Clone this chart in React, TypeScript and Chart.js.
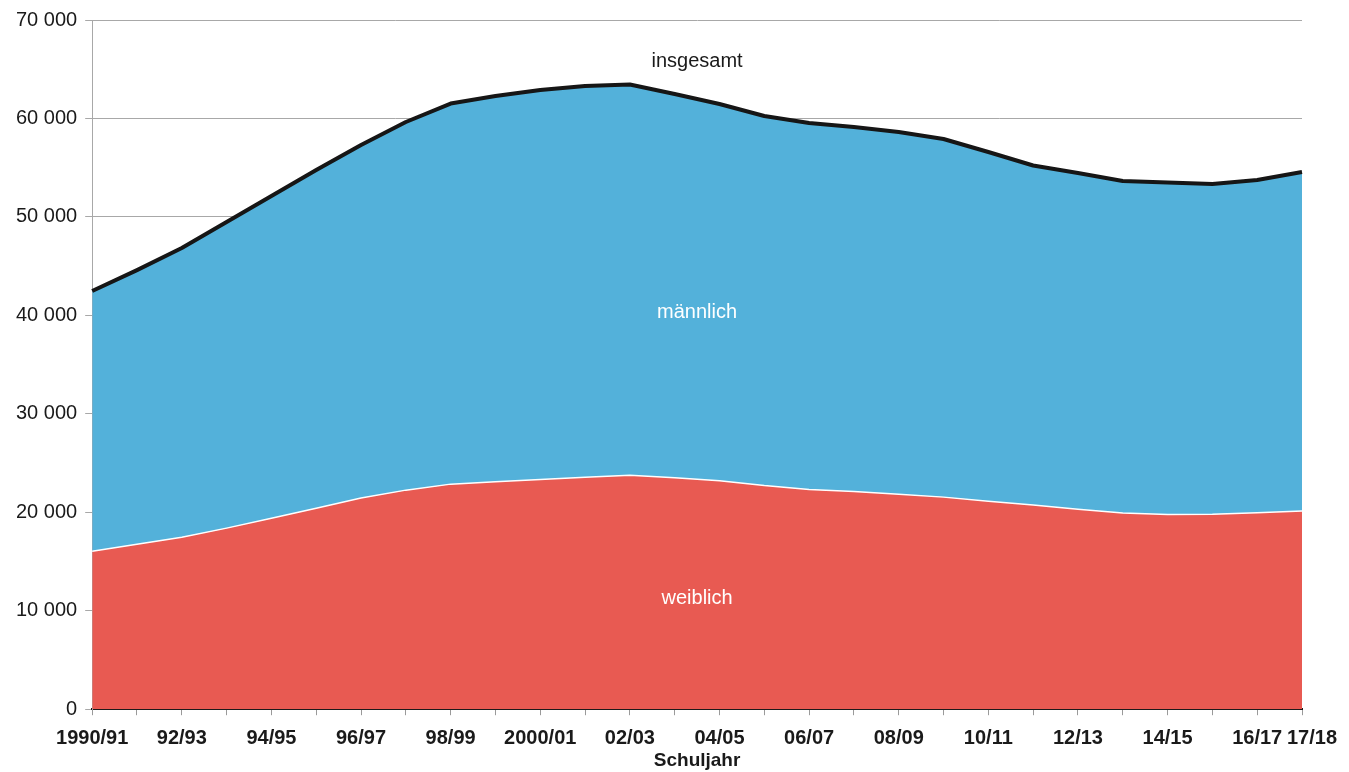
import React, { useEffect, useRef } from "react";
import { Chart, registerables } from "chart.js";

Chart.register(...registerables);

const years: string[] = [
  "1990/91", "91/92", "92/93", "93/94", "94/95", "95/96", "96/97", "97/98",
  "98/99", "99/2000", "2000/01", "01/02", "02/03", "03/04", "04/05", "05/06",
  "06/07", "07/08", "08/09", "09/10", "10/11", "11/12", "12/13", "13/14",
  "14/15", "15/16", "16/17", "17/18",
];

const shownLabels: string[] = [
  "1990/91", "", "92/93", "", "94/95", "", "96/97", "", "98/99", "", "2000/01", "",
  "02/03", "", "04/05", "", "06/07", "", "08/09", "", "10/11", "", "12/13", "",
  "14/15", "", "16/17", "\u2002\u200217/18",
];

const weiblich: number[] = [
  16050, 16760, 17470, 18390, 19400, 20420, 21440, 22250, 22860, 23110, 23320,
  23570, 23770, 23520, 23210, 22710, 22320, 22100, 21840, 21540, 21130, 20730,
  20320, 19940, 19780, 19810, 19960, 20120,
];

const insgesamt: number[] = [
  42470, 44600, 46840, 49480, 52120, 54760, 57300, 59640, 61510, 62280, 62890,
  63290, 63450, 62480, 61470, 60250, 59540, 59130, 58620, 57910, 56590, 55220,
  54460, 53650, 53490, 53340, 53740, 54560,
];

const yTicks: number[] = [0, 10000, 20000, 30000, 40000, 50000, 60000, 70000];

const areaLabels = [
  { text: "insgesamt", value: 65800, color: "#1a1a1a" },
  { text: "männlich", value: 40300, color: "#ffffff" },
  { text: "weiblich", value: 11200, color: "#ffffff" },
];

const FONT = "'Liberation Sans', Arial, Helvetica, sans-serif";

const labelPlugin = {
  id: "areaLabels",
  afterDatasetsDraw(chart: any) {
    const { ctx, chartArea, scales } = chart;
    const cx = (chartArea.left + chartArea.right) / 2;
    ctx.save();
    ctx.font = `20px ${FONT}`;
    ctx.textAlign = "center";
    ctx.textBaseline = "middle";
    for (const l of areaLabels) {
      ctx.fillStyle = l.color;
      ctx.fillText(l.text, cx, scales.y.getPixelForValue(l.value));
    }
    ctx.restore();
  },
};

function formatTick(v: number): string {
  if (v === 0) return "0";
  return `${Math.round(v / 1000)} 000`;
}

export default function App() {
  const ref = useRef<HTMLCanvasElement | null>(null);
  useEffect(() => {
    if (!ref.current) return;
    const chart = new Chart(ref.current, {
      type: "line",
      data: {
        labels: years,
        datasets: [
          {
            label: "weiblich",
            data: weiblich,
            fill: "origin",
            backgroundColor: "#E85A52",
            borderColor: "#ffffff",
            borderWidth: 1.5,
            pointRadius: 0,
            tension: 0,
          },
          {
            label: "insgesamt",
            data: insgesamt,
            fill: "-1",
            backgroundColor: "#53B1DA",
            borderColor: "#161616",
            borderWidth: 4,
            pointRadius: 0,
            tension: 0,
            borderJoinStyle: "round",
          },
        ],
      },
      options: {
        animation: false,
        responsive: false,
        maintainAspectRatio: false,
        layout: { padding: { top: 10, right: 47, left: 8, bottom: 0 } },
        plugins: {
          legend: { display: false },
          tooltip: { enabled: false },
        },
        scales: {
          x: {
            offset: false,
            grid: {
              drawOnChartArea: false,
              drawTicks: true,
              tickLength: 6,
              color: "#9a9a9a",
            },
            border: { display: true, color: "#1a1a1a", width: 2 },
            ticks: {
              autoSkip: false,
              maxRotation: 0,
              minRotation: 0,
              padding: 11,
              color: "#1a1a1a",
              font: { family: FONT, size: 20, weight: "bold" },
              callback: (_v: any, i: number) => shownLabels[i],
            },
            title: {
              display: true,
              text: "Schuljahr",
              color: "#1a1a1a",
              font: { family: FONT, size: 19, weight: "bold" },
              padding: { top: -12, bottom: 0 },
            },
          },
          y: {
            min: 0,
            max: 70000,
            afterBuildTicks: (axis: any) => {
              axis.ticks = yTicks.map((v) => ({ value: v }));
            },
            grid: {
              color: "#a8a8a8",
              lineWidth: 1,
              tickLength: 7,
            },
            border: { display: true, color: "#a8a8a8", width: 1 },
            ticks: {
              padding: 8,
              color: "#1a1a1a",
              font: { family: FONT, size: 20 },
              callback: (v: any) => formatTick(Number(v)),
            },
          },
        },
      },
      plugins: [labelPlugin],
    });
    return () => chart.destroy();
  }, []);

  return (
    <div style={{ position: "fixed", left: 0, top: 0, width: 1349, height: 772, background: "#fff" }}>
      <canvas ref={ref} width={1349} height={772} style={{ width: 1349, height: 772, display: "block" }} />
    </div>
  );
}
